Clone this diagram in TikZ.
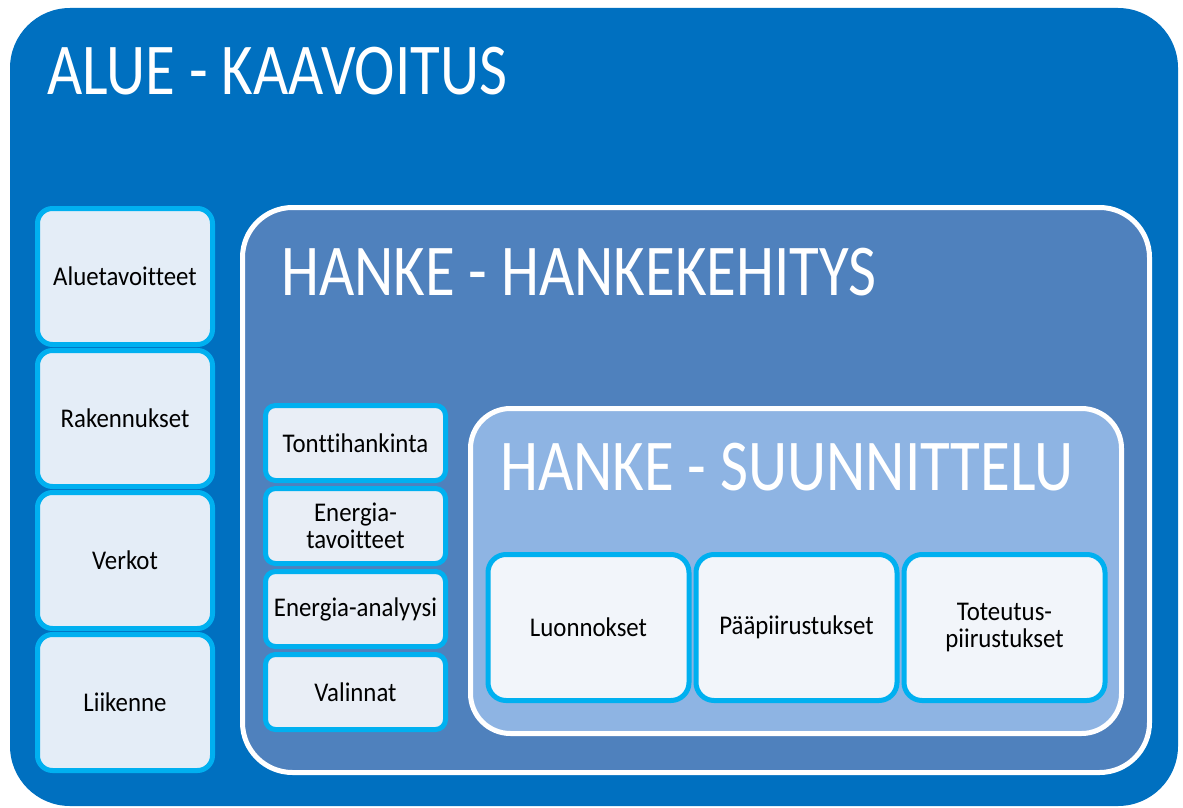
\documentclass[tikz,border=0pt]{standalone}
\usepackage{fontspec}
\setmainfont{Carlito}[FakeStretch=0.92, Ligatures=NoCommon]
\newfontfamily\titlefont{Carlito}[FakeStretch=0.834, Ligatures=NoCommon]
\usetikzlibrary{positioning}
\definecolor{alueBlue}{HTML}{0070C0}
\definecolor{hankeBlue}{HTML}{4F81BD}
\definecolor{suunBlue}{HTML}{8EB4E3}
\definecolor{cyanLine}{HTML}{00B0F0}
\definecolor{alueFill}{RGB}{228,237,247}
\definecolor{hankeFill}{RGB}{233,238,246}
\definecolor{suunFill}{RGB}{242,245,250}

\begin{document}
\begin{tikzpicture}[x=1pt, y=-1pt,
      area/.style={draw=white, line width=5pt, inner sep=0pt},
      areatitle/.style={anchor=base west, inner sep=0pt, text=white, font=\titlefont\fontsize{73}{80}\selectfont},
      item/.style={draw=cyanLine, line width=5pt, align=center, inner sep=2pt, outer sep=0pt, text=black, font=\fontsize{27}{27}\selectfont},
      aluebox/.style={item, fill=alueFill, rounded corners=15pt, minimum width=175pt, minimum height=136pt},
      hankebox/.style={item, fill=hankeFill, rounded corners=10pt, minimum width=180pt, minimum height=75pt},
      suunbox/.style={item, fill=suunFill, rounded corners=18pt, minimum width=201pt, minimum height=146pt}
    ]
      \useasboundingbox (0,0) rectangle (1183,808);
      % outer area
      \node[fill=alueBlue, rounded corners=60pt, inner sep=0pt, minimum width=1168pt, minimum height=798pt] (alue) at (594,407) {};
      \node[areatitle] (alueTitle) at (47,95) {ALUE - KAAVOITUS};
      \node[aluebox] (aluetavoitteet) at (125,276.5) {Aluetavoitteet};
      \node[aluebox, below=6pt of aluetavoitteet] (rakennukset) {Rakennukset};
      \node[aluebox, below=6pt of rakennukset] (verkot) {Verkot};
      \node[aluebox, below=6pt of verkot] (liikenne) {Liikenne};
      % hanke area
      \node[area, fill=hankeBlue, rounded corners=50pt, minimum width=907pt, minimum height=565pt] (hanke) at (696,490) {};
      \node[areatitle] (hankeTitle) at (281,295) {HANKE - HANKEKEHITYS};
      \node[hankebox] (tontti) at (355.5,443) {Tonttihankinta};
      \node[hankebox, below=8pt of tontti] (tavoitteet) {Energia-\\tavoitteet};
      \node[hankebox, below=8pt of tavoitteet] (analyysi) {Energia-analyysi};
      \node[hankebox, below=8pt of analyysi] (valinnat) {Valinnat};
      % suunnittelu area
      \node[area, fill=suunBlue, rounded corners=40pt, minimum width=651pt, minimum height=325pt] (suun) at (796,571) {};
      \node[areatitle] (suunTitle) at (500,490) {HANKE - SUUNNITTELU};
      \node[suunbox] (luonnokset) at (588.5,627.5) {Luonnokset};
      \node[suunbox, right=7pt of luonnokset] (paapiir) {Pääpiirustukset};
      \node[suunbox, right=7pt of paapiir] (toteutus) {Toteutus-\\piirustukset};
    \end{tikzpicture}
\end{document}
